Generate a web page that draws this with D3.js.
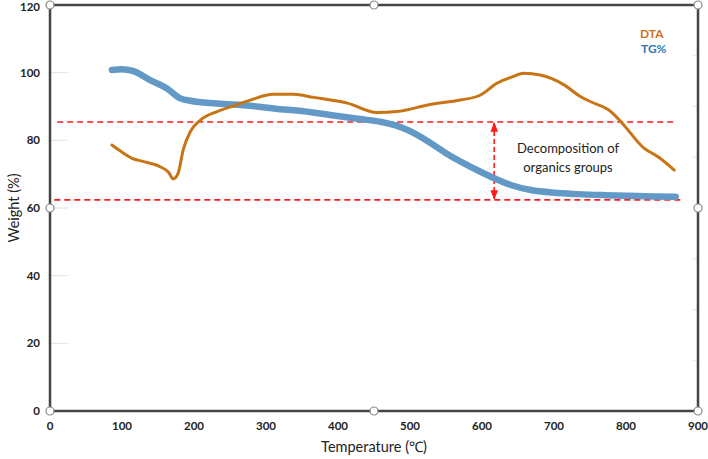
<!DOCTYPE html>
<html lang="en">
<head>
  <meta charset="UTF-8">
  <title>TG / DTA</title>
  <script src="https://d3js.org/d3.v7.min.js"></script>
  <style>
    body { margin: 0; background: #fff; }
    text { font-family: Lato, "Open Sans", sans-serif; }
    .tick-label { font-size: 11.5px; font-weight: bold; fill: #222; }
  </style>
</head>
<body>
  <svg width="708" height="459"></svg>

  <script>
    // TG% curve (temperature in C, weight %)
    const tgTemp = [86, 100, 115, 139, 162, 181, 195, 232, 278, 320, 343, 389, 430, 459, 480, 496, 528, 550, 575, 600, 617, 640, 668, 700, 733, 770, 802, 840, 869];
    const tgVal  = [100.8, 101, 100.5, 97.8, 95.4, 92.4, 91.7, 90.9, 90.2, 89.2, 88.8, 87.5, 86.3, 85.5, 84.4, 83.1, 79.3, 76.2, 73.2, 70.5, 68.8, 66.8, 65.3, 64.5, 64.1, 63.8, 63.6, 63.4, 63.3];

    // DTA curve (plotted on the same axis)
    const dtaTemp = [86, 100, 114, 130, 153, 165, 171, 178, 185, 195, 209, 232, 255, 278, 310, 338, 366, 413, 454, 482, 528, 570, 598, 621, 640, 658, 681, 714, 737, 751, 779, 795, 825, 844, 867];
    const dtaVal  = [78.6, 76.5, 74.7, 73.7, 72.2, 70.5, 68.6, 70.3, 77.2, 82.6, 86, 88.5, 90.2, 91.9, 93.6, 93.6, 92.7, 91, 88.2, 88.5, 90.6, 91.9, 93.4, 96.9, 98.6, 99.8, 99.3, 96.4, 92.9, 91.4, 88.5, 85, 77.7, 75.2, 71.2];

    const xTicks = [0, 100, 200, 300, 400, 500, 600, 700, 800, 900];
    const yTicks = [0, 20, 40, 60, 80, 100, 120];

    // annotation levels
    const upperLevel = 85.4, lowerLevel = 62.4;
    const upperRange = [10, 866], lowerRange = [6, 880];
    const arrowTemp = 617;

    const svg = d3.select("svg");
    const pL = 50, pR = 698, pT = 5, pB = 411;

    const x = d3.scaleLinear().domain([0, 900]).range([pL, pR]);
    const y = d3.scaleLinear().domain([0, 120]).range([pB, pT]);

    // short grid stubs on the left
    svg.append("g").selectAll("line")
      .data(yTicks.slice(1, -1))
      .enter().append("line")
      .attr("x1", pL).attr("x2", pL + 18)
      .attr("y1", d => y(d)).attr("y2", d => y(d))
      .attr("stroke", "#e2e2e2");

    // faint ticks on the right edge
    svg.append("g").selectAll("line")
      .data(d3.range(1, 8))
      .enter().append("line")
      .attr("x1", pR - 5).attr("x2", pR)
      .attr("y1", d => pT + d * (pB - pT) / 8)
      .attr("y2", d => pT + d * (pB - pT) / 8)
      .attr("stroke", "#e2e2e2");

    // dashed red levels
    svg.append("line")
      .attr("x1", x(upperRange[0])).attr("x2", x(upperRange[1]))
      .attr("y1", y(upperLevel)).attr("y2", y(upperLevel))
      .attr("stroke", "#ff1a1a").attr("stroke-width", 1.6).attr("stroke-dasharray", "6,4");
    svg.append("line")
      .attr("x1", x(lowerRange[0])).attr("x2", x(lowerRange[1]))
      .attr("y1", y(lowerLevel)).attr("y2", y(lowerLevel))
      .attr("stroke", "#ff1a1a").attr("stroke-width", 1.6).attr("stroke-dasharray", "6,4");

    // arrow markers
    const defs = svg.append("defs");
    defs.append("marker").attr("id", "ah").attr("viewBox", "0 0 10 10")
      .attr("refX", 9).attr("refY", 5).attr("markerWidth", 6).attr("markerHeight", 6)
      .attr("orient", "auto-start-reverse")
      .append("path").attr("d", "M0,1 L10,5 L0,9 z").attr("fill", "#ff1a1a");

    svg.append("line")
      .attr("x1", x(arrowTemp)).attr("x2", x(arrowTemp))
      .attr("y1", y(upperLevel) + 1).attr("y2", y(lowerLevel) - 1)
      .attr("stroke", "#ff1a1a").attr("stroke-width", 1.6).attr("stroke-dasharray", "5,3")
      .attr("marker-start", "url(#ah)").attr("marker-end", "url(#ah)");

    svg.append("text").attr("x", 568).attr("y", 153).attr("text-anchor", "middle")
      .attr("font-size", 13).attr("fill", "#222").text("Decomposition of");
    svg.append("text").attr("x", 568).attr("y", 172).attr("text-anchor", "middle")
      .attr("font-size", 13).attr("fill", "#222").text("organics groups");

    const line = d3.line().curve(d3.curveMonotoneX);

    svg.append("path")
      .attr("d", line(tgTemp.map((t, i) => [x(t), y(tgVal[i])])))
      .attr("fill", "none").attr("stroke", "#6399c6").attr("stroke-width", 6.5)
      .attr("stroke-linecap", "round");

    svg.append("path")
      .attr("d", line(dtaTemp.map((t, i) => [x(t), y(dtaVal[i])])))
      .attr("fill", "none").attr("stroke", "#c97414").attr("stroke-width", 3)
      .attr("stroke-linecap", "round");

    // frame
    svg.append("rect")
      .attr("x", pL).attr("y", pT).attr("width", pR - pL).attr("height", pB - pT)
      .attr("fill", "none").attr("stroke", "#444").attr("stroke-width", 2.5);

    // tick labels
    svg.append("g").selectAll("text")
      .data(yTicks).enter().append("text")
      .attr("class", "tick-label")
      .attr("x", 40).attr("y", d => Math.max(y(d) + 4, 11)).attr("text-anchor", "end")
      .text(d => d);
    svg.append("g").selectAll("text")
      .data(xTicks).enter().append("text")
      .attr("class", "tick-label")
      .attr("x", d => x(d)).attr("y", 430).attr("text-anchor", "middle")
      .text(d => d);

    // selection handles
    const mx = (pL + pR) / 2, my = (pT + pB) / 2;
    const handles = [[pL, pT], [mx, pT], [pR, pT], [pL, my], [pR, my], [pL, pB], [mx, pB], [pR, pB]];
    svg.append("g").selectAll("circle")
      .data(handles).enter().append("circle")
      .attr("cx", d => d[0]).attr("cy", d => d[1]).attr("r", 4)
      .attr("fill", "#fff").attr("stroke", "#888").attr("stroke-width", 1.2);

    // axis titles
    svg.append("text").attr("x", mx).attr("y", 452).attr("text-anchor", "middle")
      .attr("font-size", 14.5).attr("fill", "#222").text("Temperature (\u2103)");
    svg.append("text").attr("transform", `translate(19,${my}) rotate(-90)`)
      .attr("text-anchor", "middle").attr("font-size", 14.5).attr("fill", "#222").text("Weight (%)");

    // legend
    svg.append("text").attr("x", 640).attr("y", 38).attr("font-size", 12).attr("font-weight", "bold")
      .attr("fill", "#d0701a").text("DTA");
    svg.append("text").attr("x", 641).attr("y", 53).attr("font-size", 12).attr("font-weight", "bold")
      .attr("fill", "#2e75b6").text("TG%");
  </script>
</body>
</html>
